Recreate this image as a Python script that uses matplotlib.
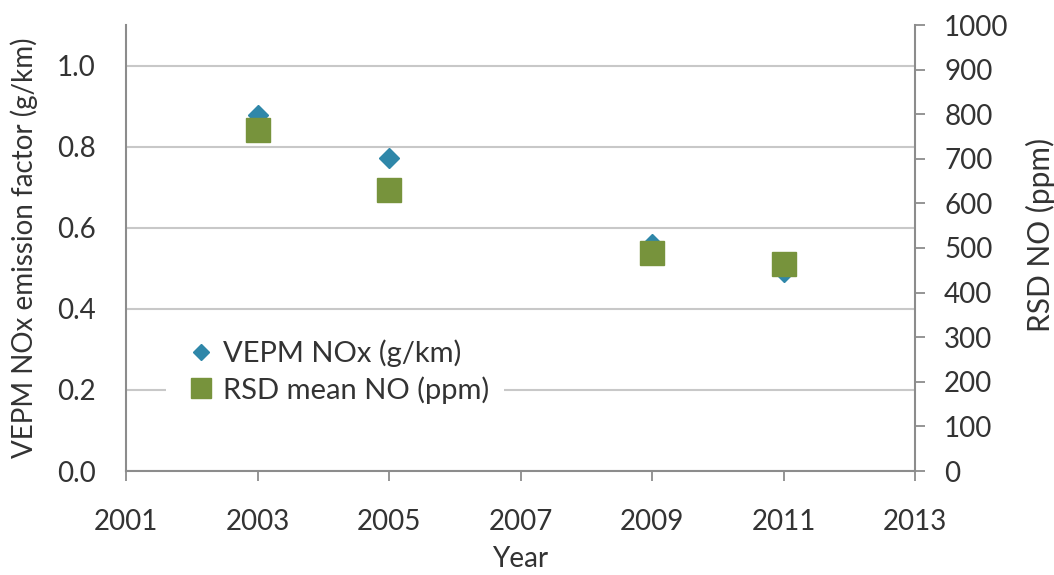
import matplotlib
matplotlib.use("Agg")
import matplotlib.pyplot as plt
from matplotlib.lines import Line2D

years = [2003, 2005, 2009, 2011]
vepm_nox = [0.878, 0.773, 0.560, 0.490]
rsd_no = [765, 630, 488, 465]

x_ticks = [2001, 2003, 2005, 2007, 2009, 2011, 2013]
left_ticks = [0.0, 0.2, 0.4, 0.6, 0.8, 1.0]
right_ticks = list(range(0, 1001, 100))

plt.rcParams['font.family'] = ['Lato', 'DejaVu Sans']
text_col = '#333333'
spine_col = '#8c8c8c'
grid_col = '#c8c8c8'
blue = '#2f87a9'
green = '#77933c'

fig = plt.figure(figsize=(10.54, 5.75), dpi=100)
ax = fig.add_axes([126/1054, 104/575, (915-126)/1054, (471-25)/575])
ax2 = ax.twinx()

ax.plot(years, vepm_nox, linestyle='none', marker='D', ms=10.5, color=blue,
        markeredgecolor=blue, label='VEPM NOx (g/km)')
ax2.plot(years, rsd_no, linestyle='none', marker='s', ms=17.5, color=green,
         markeredgecolor=green, label='RSD mean NO (ppm)')

ax.set_xlim(2001, 2013)
ax.set_ylim(0, 1.1)
ax2.set_ylim(0, 1000)
ax.set_xticks(x_ticks)
ax.set_yticks(left_ticks)
ax.set_yticklabels([f'{v:.1f}' for v in left_ticks])
ax2.set_yticks(right_ticks)

ax.yaxis.grid(True, color=grid_col, linewidth=1.5)
ax.set_axisbelow(True)

for a in (ax, ax2):
    for s in a.spines.values():
        s.set_visible(False)
ax.spines['left'].set_visible(True)
ax.spines['bottom'].set_visible(True)
ax2.spines['right'].set_visible(True)
for s in (ax.spines['left'], ax.spines['bottom'], ax2.spines['right']):
    s.set_color(spine_col)
    s.set_linewidth(1.5)

ax.tick_params(axis='y', length=0, pad=22, labelsize=20, labelcolor=text_col)
ax.tick_params(axis='x', length=7, width=1.3, color=spine_col, pad=20,
               labelsize=20, labelcolor=text_col, direction='out')
ax2.tick_params(axis='y', length=7, width=1.3, color=spine_col, pad=14,
                labelsize=20, labelcolor=text_col, direction='out')

ax.set_xlabel('Year', fontsize=20, color=text_col, labelpad=8)
ax.set_ylabel('VEPM NOx emission factor (g/km)', fontsize=20, color=text_col)
ax.yaxis.set_label_coords(-0.112, 0.5)
ax2.set_ylabel('RSD NO (ppm)', fontsize=21.5, color=text_col, rotation=90)
ax2.yaxis.set_label_coords(1.141, 0.53)

handles = [
    Line2D([], [], linestyle='none', marker='D', ms=8, color=blue),
    Line2D([], [], linestyle='none', marker='s', ms=14, color=green),
]
leg = ax2.legend(handles, ['VEPM NOx (g/km)', 'RSD mean NO (ppm)'],
                 loc='upper left', bbox_to_anchor=(40/789, (471-325)/446),
                 frameon=True, facecolor='white', edgecolor='none', framealpha=1,
                 fontsize=21, handlelength=1.4, handletextpad=0.05,
                 labelspacing=0.3, borderpad=0.5, borderaxespad=0)
for t in leg.get_texts():
    t.set_color(text_col)

fig.savefig('out.png', dpi=100)
